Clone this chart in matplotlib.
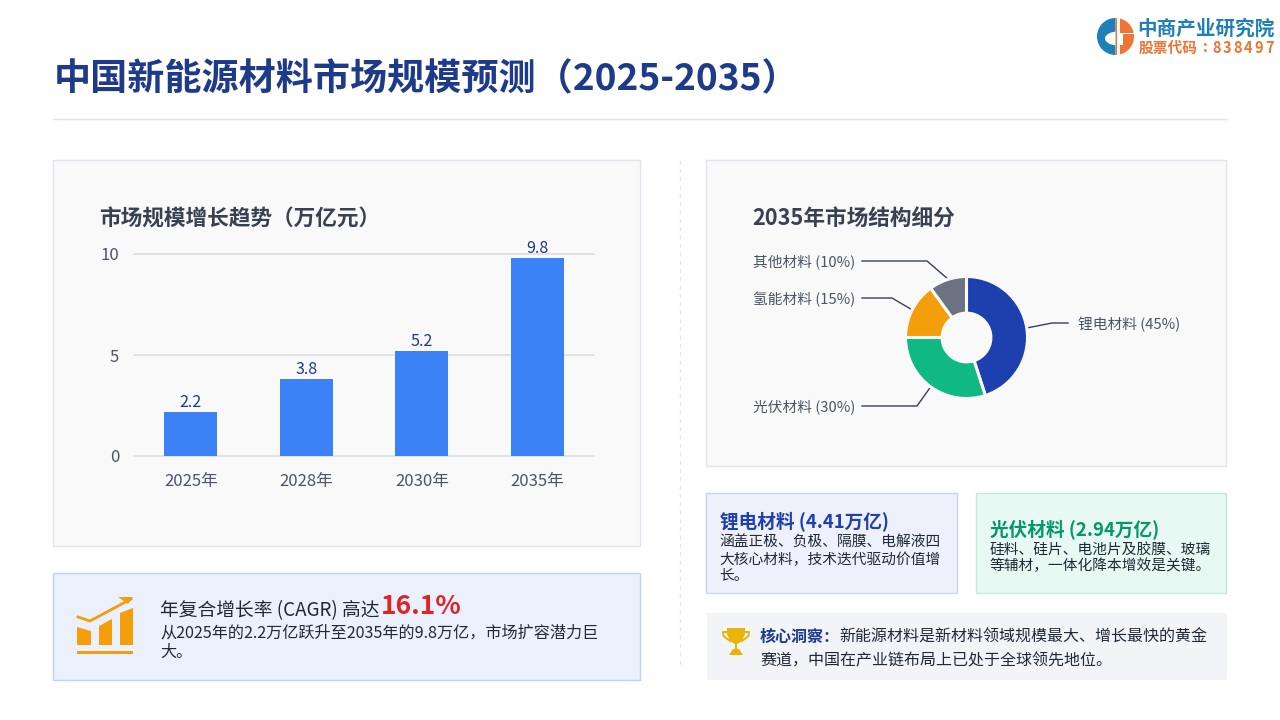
import numpy as np
import matplotlib
matplotlib.use('Agg')
import matplotlib.pyplot as plt
from matplotlib.patches import Rectangle, Polygon, Wedge, Ellipse

plt.rcParams['font.family'] = ['Noto Sans CJK SC', 'DejaVu Sans']

# data
years = ['2025年', '2028年', '2030年', '2035年']
market_size = [2.2, 3.8, 5.2, 9.8]
y_ticks = [0, 5, 10]

materials = ['锂电材料', '光伏材料', '氢能材料', '其他材料']
shares = [45, 30, 15, 10]
pie_colors = ['#1e40af', '#10b981', '#f59e0b', '#6b7280']

W, H = 1280, 720
fig = plt.figure(figsize=(W / 100, H / 100), dpi=100, facecolor='white')

# page axes in pixel coordinates, everything else sits on top of it
page = fig.add_axes([0, 0, 1, 1])
page.set_xlim(0, W)
page.set_ylim(H, 0)
page.axis('off')


def box(x0, y0, x1, y1, fc, ec='none', lw=1):
    page.add_patch(Rectangle((x0, y0), x1 - x0, y1 - y0, fc=fc, ec=ec, lw=lw))


def txt(x, y, s, size, color='#1f2937', weight='normal', ha='left', va='center'):
    page.text(x, y, s, fontsize=size, color=color, fontweight=weight, ha=ha, va=va)


def px_axes(x0, y0, x1, y1):
    return fig.add_axes([x0 / W, 1 - y1 / H, (x1 - x0) / W, (y1 - y0) / H])


# header
txt(54, 80, '中国新能源材料市场规模预测（2025-2035）', 26.7, '#1e3a8a', 'bold')
page.plot([53, 1227], [119, 119], color='#e2e4ee', lw=1)
page.plot([679.5, 679.5], [160, 668], color='#e5e7eb', lw=1, ls=(0, (3, 3)))

# logo
blue_logo, orange_logo = '#1f7fb8', '#ef7435'
page.add_patch(Wedge((1115.5, 36.5), 18.5, 90, 270, fc=blue_logo, ec='none'))
page.add_patch(Ellipse((1118, 38.5), 26, 14, fc='white', ec='none'))
page.add_patch(Wedge((1115.5, 36.5), 18.5, 270, 90, fc=orange_logo, ec='none'))
page.add_patch(Rectangle((1117, 17), 3, 39, fc='white', ec='none'))
page.add_patch(Rectangle((1120, 32.5), 15, 1.5, fc='white', ec='none'))
page.add_patch(Rectangle((1120, 34), 2.5, 11, fc='white', ec='none'))
txt(1137.5, 29, '中商产业研究院', 14.1, blue_logo, 'bold')
txt(1139, 48, '股票代码', 10.6, orange_logo, 'bold')
txt(1203, 47, ':', 10.6, orange_logo, 'bold')
for i, ch in enumerate('838497'):
    txt(1212.5 + i * 10.5, 48, ch, 10.5, orange_logo, 'bold')

# panels
box(53, 160, 640, 546, '#f9f9fa', '#e2e5ee')
box(53, 573, 640, 680, '#eaf0fc', '#bfd3f5')
box(706, 160, 1226, 466, '#f9f9fa', '#e2e5ee')
box(706, 493, 957, 593, '#eef1fb', '#c9d3f2')
box(976, 493, 1226, 593, '#e8f8f2', '#bdeedb')
box(707, 613, 1227, 680, '#f3f4f8')

# bar chart
txt(99, 219, '市场规模增长趋势（万亿元）', 15.6, '#374151', 'bold')
ax = px_axes(133, 254, 595, 456)
ax.patch.set_alpha(0)
x = np.arange(len(years))
bars = ax.bar(x, market_size, width=0.46, color='#3b82f6', zorder=3)
for b, v in zip(bars, market_size):
    ax.text(b.get_x() + b.get_width() / 2, v + 0.05, f'{v}', ha='center', va='bottom',
            fontsize=11.5, color='#1e3a8a', clip_on=False)
ax.set_xlim(-0.5, 3.5)
ax.set_ylim(0, 10)
ax.set_xticks(x, years)
ax.set_yticks(y_ticks)
ax.tick_params(length=0, labelsize=12, labelcolor='#4b5563')
ax.tick_params(axis='x', pad=12)
ax.tick_params(axis='y', pad=10)
ax.grid(axis='y', color='#dcdfe3', lw=1.2, zorder=0, solid_capstyle='butt')
ax.set_axisbelow(True)
for s in ax.spines.values():
    s.set_visible(False)
for label in ax.get_yticklabels():
    label.set_clip_on(False)
for line in ax.get_ygridlines():
    line.set_clip_on(False)

# donut
txt(752, 219, '2035年市场结构细分', 15.6, '#374151', 'bold')
cx, cy, r = 966.5, 337.5, 61
pie_ax = px_axes(cx - r * 1.05, cy - r * 1.05, cx + r * 1.05, cy + r * 1.05)
pie_ax.pie(shares, colors=pie_colors, radius=1, startangle=90, counterclock=False,
           wedgeprops=dict(width=0.6, edgecolor='#f9f9fa', linewidth=2.2))
pie_ax.set_xlim(-1.05, 1.05)
pie_ax.set_ylim(-1.05, 1.05)

# leader lines start on the ring at each slice's middle angle
label_pos = [(1052, 323, 1078, 'left'), (917, 406, 855, 'right'),
             (892, 298, 855, 'right'), (927, 261, 855, 'right')]
start = 0
for name, share, (ex, ey, tx, ha) in zip(materials, shares, label_pos):
    ang = np.deg2rad(90 - 3.6 * (start + share / 2))
    start += share
    sx, sy = cx + (r + 1) * np.cos(ang), cy - (r + 1) * np.sin(ang)
    lx = tx - 10 if ha == 'left' else tx + 7
    page.plot([sx, ex, lx], [sy, ey, ey], color='#374151', lw=1, zorder=5)
    txt(tx, ey + 1, f'{name} ({share}%)', 10.6, '#4b5563', ha=ha)

# CAGR icon
amber = '#f59e0b'
for pts in ([(77, 627), (91, 631), (91, 645), (77, 645)],
            [(99, 626), (112, 619), (112, 645), (99, 645)],
            [(120, 613), (133, 608), (133, 645), (120, 645)]):
    page.add_patch(Polygon(pts, fc=amber, ec='none'))
page.add_patch(Rectangle((77, 651), 56, 2.5, fc=amber, ec='none'))
page.plot([78, 90, 131], [617, 621, 599], color=amber, lw=2, solid_joinstyle='miter')
page.add_patch(Polygon([(118, 597), (133, 597), (128, 604)], fc=amber, ec='none'))

# CAGR text
txt(160.5, 611, '年复合增长率 (CAGR) 高达', 13.5)
txt(381, 607, '16.1%', 19, '#dc2626', 'bold')
txt(160.5, 633, '从2025年的2.2万亿跃升至2035年的9.8万亿，市场扩容潜力巨', 11.6)
txt(160.5, 652, '大。', 11.6)

# detail cards
txt(720, 521, '锂电材料 (4.41万亿)', 13.4, '#1e40af', 'bold')
txt(719.5, 543, '涵盖正极、负极、隔膜、电解液四', 10.6)
txt(719.5, 559.5, '大核心材料，技术迭代驱动价值增', 10.6)
txt(719.5, 576, '长。', 10.6)
txt(989.5, 529.5, '光伏材料 (2.94万亿)', 13.4, '#059669', 'bold')
txt(989.5, 550, '硅料、硅片、电池片及胶膜、玻璃', 10.6)
txt(989.5, 566, '等辅材，一体化降本增效是关键。', 10.6)

# trophy icon
gold = '#eab308'
page.add_patch(Polygon([(727, 628), (745, 628), (745, 634), (742, 641), (737, 644),
                        (735, 644), (730, 641), (727, 634)], fc=gold, ec='none'))
page.add_patch(Rectangle((735, 643), 2, 6, fc=gold, ec='none'))
page.add_patch(Polygon([(733, 649), (739, 649), (743, 655), (729, 655)], fc=gold, ec='none'))
page.plot([727, 723, 723.5, 730], [632, 632, 636, 641], color=gold, lw=1.4)
page.plot([745, 749, 748.5, 742], [632, 632, 636, 641], color=gold, lw=1.4)

# insight text
txt(760, 637, '核心洞察：', 11.5, '#1e3a8a', 'bold')
txt(839.5, 637, '新能源材料是新材料领域规模最大、增长最快的黄金', 11.5)
txt(760, 661, '赛道，中国在产业链布局上已处于全球领先地位。', 11.5)

fig.savefig('out.png', dpi=100)
